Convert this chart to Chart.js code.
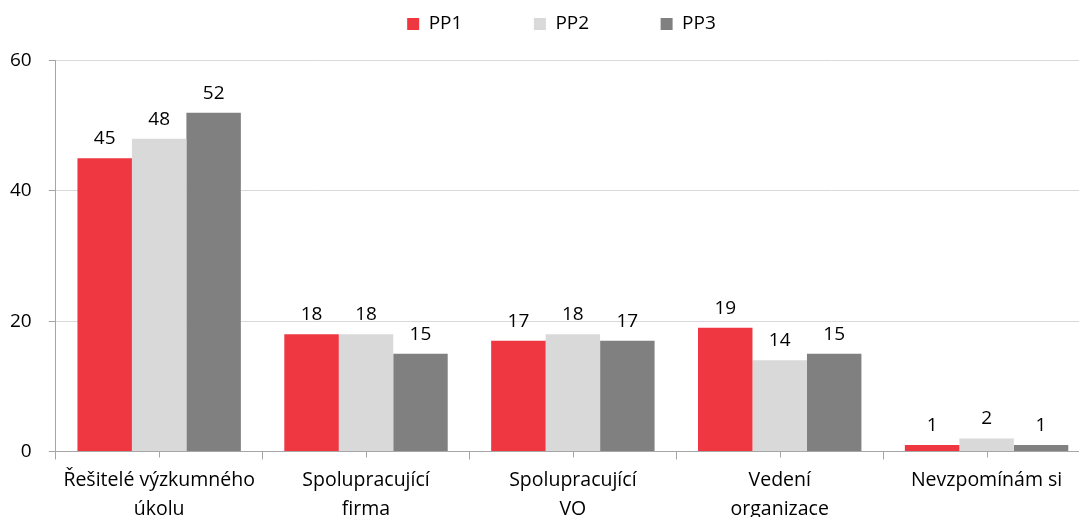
<!DOCTYPE html>
<html>
<head>
<meta charset="utf-8">
<script src="https://cdn.jsdelivr.net/npm/chart.js@4/dist/chart.umd.min.js"></script>
<style>
  html, body { margin: 0; padding: 0; overflow: hidden; background: #fff; }
  #wrap { width: 1116px; height: 530px; }
</style>
</head>
<body>
<div id="wrap"><canvas id="myChart"></canvas></div>
<script>
const categories = [
  ["Řešitelé výzkumného", "úkolu"],
  ["Spolupracující", "firma"],
  ["Spolupracující", "VO"],
  ["Vedení", "organizace"],
  "Nevzpomínám si",
];
const seriesNames = ["PP1", "PP2", "PP3"];
const pp1 = [45, 18, 17, 19, 1];
const pp2 = [48, 18, 18, 14, 2];
const pp3 = [52, 15, 17, 15, 1];
const colors = ["#EF3742", "#D9D9D9", "#808080"];

const FONT = "'Open Sans', sans-serif";

// value labels above bars
const valueLabels = {
  id: "valueLabels",
  afterDatasetsDraw(chart) {
    const ctx = chart.ctx;
    ctx.save();
    ctx.font = "19px " + FONT;
    ctx.fillStyle = "#000";
    ctx.textAlign = "center";
    ctx.textBaseline = "bottom";
    chart.data.datasets.forEach((ds, i) => {
      chart.getDatasetMeta(i).data.forEach((bar, j) => {
        ctx.fillText(ds.data[j], bar.x, bar.y - 10);
      });
    });
    ctx.restore();
  },
};

// small tick marks at category centres
const centerTicks = {
  id: "centerTicks",
  afterDraw(chart) {
    const xs = chart.scales.x;
    const ctx = chart.ctx;
    ctx.save();
    ctx.strokeStyle = "#A6A6A6";
    ctx.lineWidth = 1;
    for (let i = 0; i < categories.length; i++) {
      const x = Math.round(xs.getPixelForValue(i)) + 0.5;
      ctx.beginPath();
      ctx.moveTo(x, xs.top);
      ctx.lineTo(x, xs.top + 6);
      ctx.stroke();
    }
    ctx.restore();
  },
};

// extra space under the legend, and nudge it right
const legendGap = {
  id: "legendGap",
  beforeInit(chart) {
    const fit = chart.legend.fit;
    chart.legend.fit = function () {
      fit.call(this);
      this.height += 17;
    };
  },
  afterLayout(chart) {
    chart.legend.left += 20;
    chart.legend.right += 20;
  },
};

new Chart(document.getElementById("myChart"), {
  type: "bar",
  data: {
    labels: categories,
    datasets: [
      { label: seriesNames[0], data: pp1, backgroundColor: colors[0] },
      { label: seriesNames[1], data: pp2, backgroundColor: colors[1] },
      { label: seriesNames[2], data: pp3, backgroundColor: colors[2] },
    ],
  },
  options: {
    responsive: true,
    maintainAspectRatio: false,
    animation: false,
    layout: { padding: { top: -57, right: 26, left: -7, bottom: 0 } },
    datasets: { bar: { categoryPercentage: 0.79, barPercentage: 1.0 } },
    plugins: {
      legend: {
        position: "top",
        labels: {
          boxWidth: 12,
          boxHeight: 12,
          padding: 71.5,
          color: "#000",
          font: { family: FONT, size: 19 },
        },
      },
      tooltip: { enabled: false },
    },
    scales: {
      x: {
        grid: {
          offset: true,
          drawOnChartArea: false,
          color: "#A6A6A6",
          tickLength: 8,
        },
        border: { color: "#A6A6A6" },
        ticks: {
          color: "#000",
          maxRotation: 0,
          autoSkip: false,
          padding: 6,
          font: { family: FONT, size: 19.5, lineHeight: 1.5 },
        },
      },
      y: {
        min: 0,
        max: 60,
        ticks: {
          stepSize: 20,
          color: "#000",
          padding: 17,
          font: { family: FONT, size: 19 },
        },
        grid: { color: "#D9D9D9", tickLength: 7, tickColor: "#A6A6A6" },
        border: { color: "#A6A6A6" },
      },
    },
  },
  plugins: [valueLabels, centerTicks, legendGap],
});
</script>
</body>
</html>
